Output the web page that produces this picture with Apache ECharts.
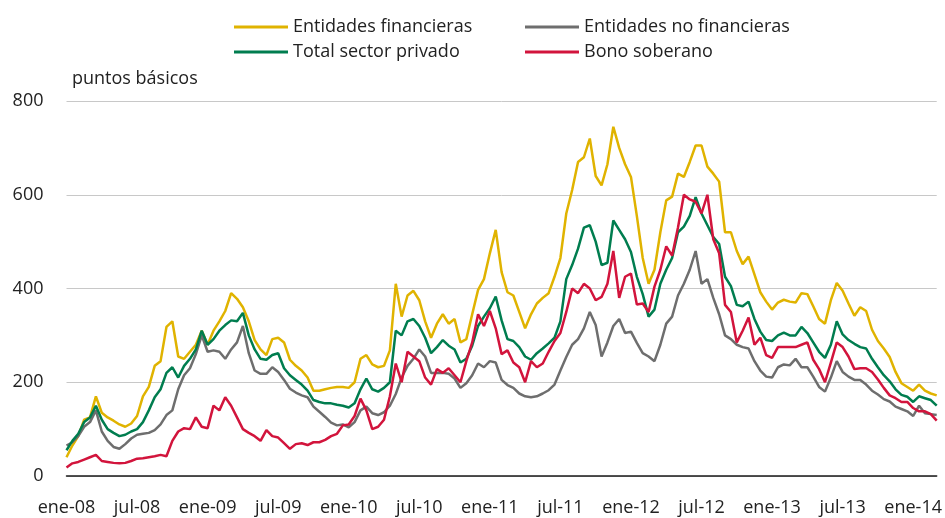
<!DOCTYPE html>
<html><head><meta charset="utf-8">
<script src="https://cdn.jsdelivr.net/npm/echarts@6/dist/echarts.min.js"></script>
<style>html,body{margin:0;padding:0;background:#fff}#c{width:945px;height:518px}</style>
</head><body><div id="c"></div>
<script>
const MESES = ['ene','feb','mar','abr','may','jun','jul','ago','sep','oct','nov','dic'];
const FONT = '"Open Sans", "Noto Sans", sans-serif';

// half-monthly observations, 2008-01-01 .. 2014-03-01
const fechas = [];
for (let i = 0; i < 149; i++) {
  const m = Math.floor(i / 2), y = 2008 + Math.floor(m / 12), mm = m % 12;
  fechas.push(y + '-' + String(mm + 1).padStart(2, '0') + '-' + (i % 2 ? '16' : '01'));
}

const financieras = [
  40, 65, 85, 120, 125, 170, 135, 125, 118, 110,
  105, 112, 128, 170, 190, 235, 245, 318, 330, 255,
  250, 265, 280, 310, 280, 310, 330, 352, 390, 378,
  360, 330, 290, 270, 258, 292, 295, 285, 248, 235,
  225, 210, 182, 182, 185, 188, 190, 190, 188, 200,
  250, 258, 238, 232, 235, 268, 410, 340, 385, 395,
  375, 330, 295, 325, 345, 325, 335, 285, 292, 345,
  397, 420, 475, 525, 435, 392, 385, 350, 315, 345,
  368, 380, 390, 425, 465, 560, 610, 670, 680, 720,
  640, 620, 665, 745, 700, 665, 638, 555, 465, 410,
  440, 520, 588, 596, 645, 638, 670, 705, 705, 660,
  645, 628, 520, 520, 480, 452, 468, 430, 392, 372,
  355, 370, 376, 372, 370, 390, 388, 362, 335, 325,
  375, 412, 395, 368, 342, 360, 352, 312, 288, 272,
  254, 222, 198, 190, 182, 195, 182, 176, 172
];
const noFinancieras = [
  65, 72, 85, 105, 115, 140, 95, 75, 62, 58,
  68, 80, 88, 90, 92, 98, 110, 130, 140, 185,
  215, 230, 260, 300, 265, 268, 265, 250, 270, 285,
  320, 262, 225, 218, 218, 232, 222, 205, 186, 178,
  172, 168, 148, 137, 126, 114, 108, 110, 104, 115,
  140, 148, 134, 130, 136, 150, 175, 210, 235, 250,
  270, 255, 220, 220, 220, 218, 208, 188, 198, 215,
  240, 232, 245, 242, 205, 194, 188, 176, 170, 168,
  170, 176, 183, 195, 225, 254, 280, 292, 315, 350,
  322, 255, 285, 320, 335, 305, 308, 284, 262, 255,
  245, 280, 325, 340, 385, 410, 440, 480, 410, 420,
  380, 345, 300, 292, 280, 275, 272, 245, 225, 212,
  210, 232, 238, 236, 250, 232, 232, 212, 190, 180,
  210, 245, 222, 212, 205, 205, 195, 182, 174, 164,
  159, 148, 143, 138, 128, 150, 134, 132, 130
];
const totalPrivado = [
  55, 75, 90, 115, 125, 150, 120, 100, 92, 85,
  88, 95, 100, 115, 140, 168, 185, 220, 232, 210,
  235, 250, 270, 310, 280, 292, 310, 322, 332, 330,
  348, 300, 270, 250, 248, 258, 262, 230, 215, 205,
  195, 182, 162, 158, 155, 155, 152, 150, 146, 155,
  185, 208, 185, 180, 188, 200, 310, 300, 330, 335,
  320, 295, 262, 275, 290, 278, 270, 242, 250, 278,
  320, 340, 358, 383, 332, 292, 288, 275, 255, 248,
  262, 272, 283, 295, 330, 420, 450, 485, 530, 535,
  500, 450, 455, 545, 525, 505, 478, 425, 388, 340,
  355, 410, 440, 465, 520, 532, 555, 595, 560, 535,
  510, 495, 425, 405, 365, 362, 372, 335, 308, 290,
  288, 300, 306, 300, 300, 318, 305, 285, 265, 252,
  280, 330, 302, 290, 282, 275, 272, 250, 232, 215,
  202, 185, 173, 169, 158, 170, 166, 162, 150
];
const bonoSoberano = [
  18, 27, 30, 35, 40, 45, 32, 30, 28, 27,
  28, 32, 37, 38, 40, 42, 45, 42, 75, 95,
  102, 100, 125, 105, 102, 150, 140, 168, 150, 125,
  100, 92, 85, 75, 98, 85, 82, 70, 58, 68,
  70, 66, 72, 72, 77, 85, 90, 108, 110, 128,
  165, 140, 100, 105, 120, 170, 240, 200, 265, 255,
  245, 210, 195, 228, 220, 230, 215, 200, 245, 285,
  345, 320, 352, 315, 260, 268, 242, 232, 200, 245,
  232, 240, 265, 288, 305, 350, 400, 390, 410, 400,
  375, 382, 410, 480, 380, 425, 432, 366, 368, 350,
  404, 440, 490, 470, 530, 600, 590, 585, 560, 600,
  505, 475, 365, 350, 285, 310, 338, 280, 295, 258,
  252, 275, 275, 275, 275, 280, 285, 248, 228, 200,
  242, 285, 275, 255, 228, 230, 230, 222, 206, 188,
  172, 166, 158, 158, 145, 138, 138, 132, 118
];

const yTicks = { min: 0, max: 800, interval: 200 };

const chart = echarts.init(document.getElementById('c'), null, { renderer: 'canvas' });
const leg = (name, left, top) => ({
  icon: 'rect', itemWidth: 54, itemHeight: 3, left, top,
  textStyle: { fontFamily: FONT, fontSize: 18, color: '#222' },
  selectedMode: false, data: [name]
});
const mk = (name, data, color) => ({
  name, type: 'line', data, showSymbol: false, symbol: 'none',
  lineStyle: { width: 2.5, color }, itemStyle: { color }, animation: false
});
chart.setOption({
  animation: false,
  textStyle: { fontFamily: FONT },
  grid: { left: 66.5, right: -4, top: 101, bottom: 42 },
  legend: [
    leg('Entidades financieras', 229, 13),
    leg('Entidades no financieras', 520, 13),
    leg('Total sector privado', 229, 38),
    leg('Bono soberano', 520, 38)
  ],
  graphic: [{ type: 'text', left: 72, top: 70,
    style: { text: 'puntos básicos', font: '18px ' + FONT, fill: '#222' } }],
  xAxis: {
    type: 'category', data: fechas, boundaryGap: false,
    axisLine: { lineStyle: { color: '#1a1a1a', width: 1.5 } },
    axisTick: { show: false },
    axisLabel: {
      interval: (i) => i % 12 === 0,
      formatter: (v) => { const p = v.split('-'); return MESES[+p[1] - 1] + '-' + p[0].slice(2); },
      fontFamily: FONT, fontSize: 18, color: '#222', margin: 23
    },
    splitLine: { show: false }
  },
  yAxis: {
    type: 'value', min: yTicks.min, max: yTicks.max, interval: yTicks.interval,
    axisLine: { show: false }, axisTick: { show: false },
    axisLabel: { fontFamily: FONT, fontSize: 18, color: '#222', margin: 23 },
    splitLine: { lineStyle: { color: '#c8c8c8', width: 1 } }
  },
  series: [
    mk('Entidades financieras', financieras, '#E0B300'),
    mk('Entidades no financieras', noFinancieras, '#6E6E6E'),
    mk('Total sector privado', totalPrivado, '#007D4F'),
    mk('Bono soberano', bonoSoberano, '#D2143C')
  ]
});
</script></body></html>
